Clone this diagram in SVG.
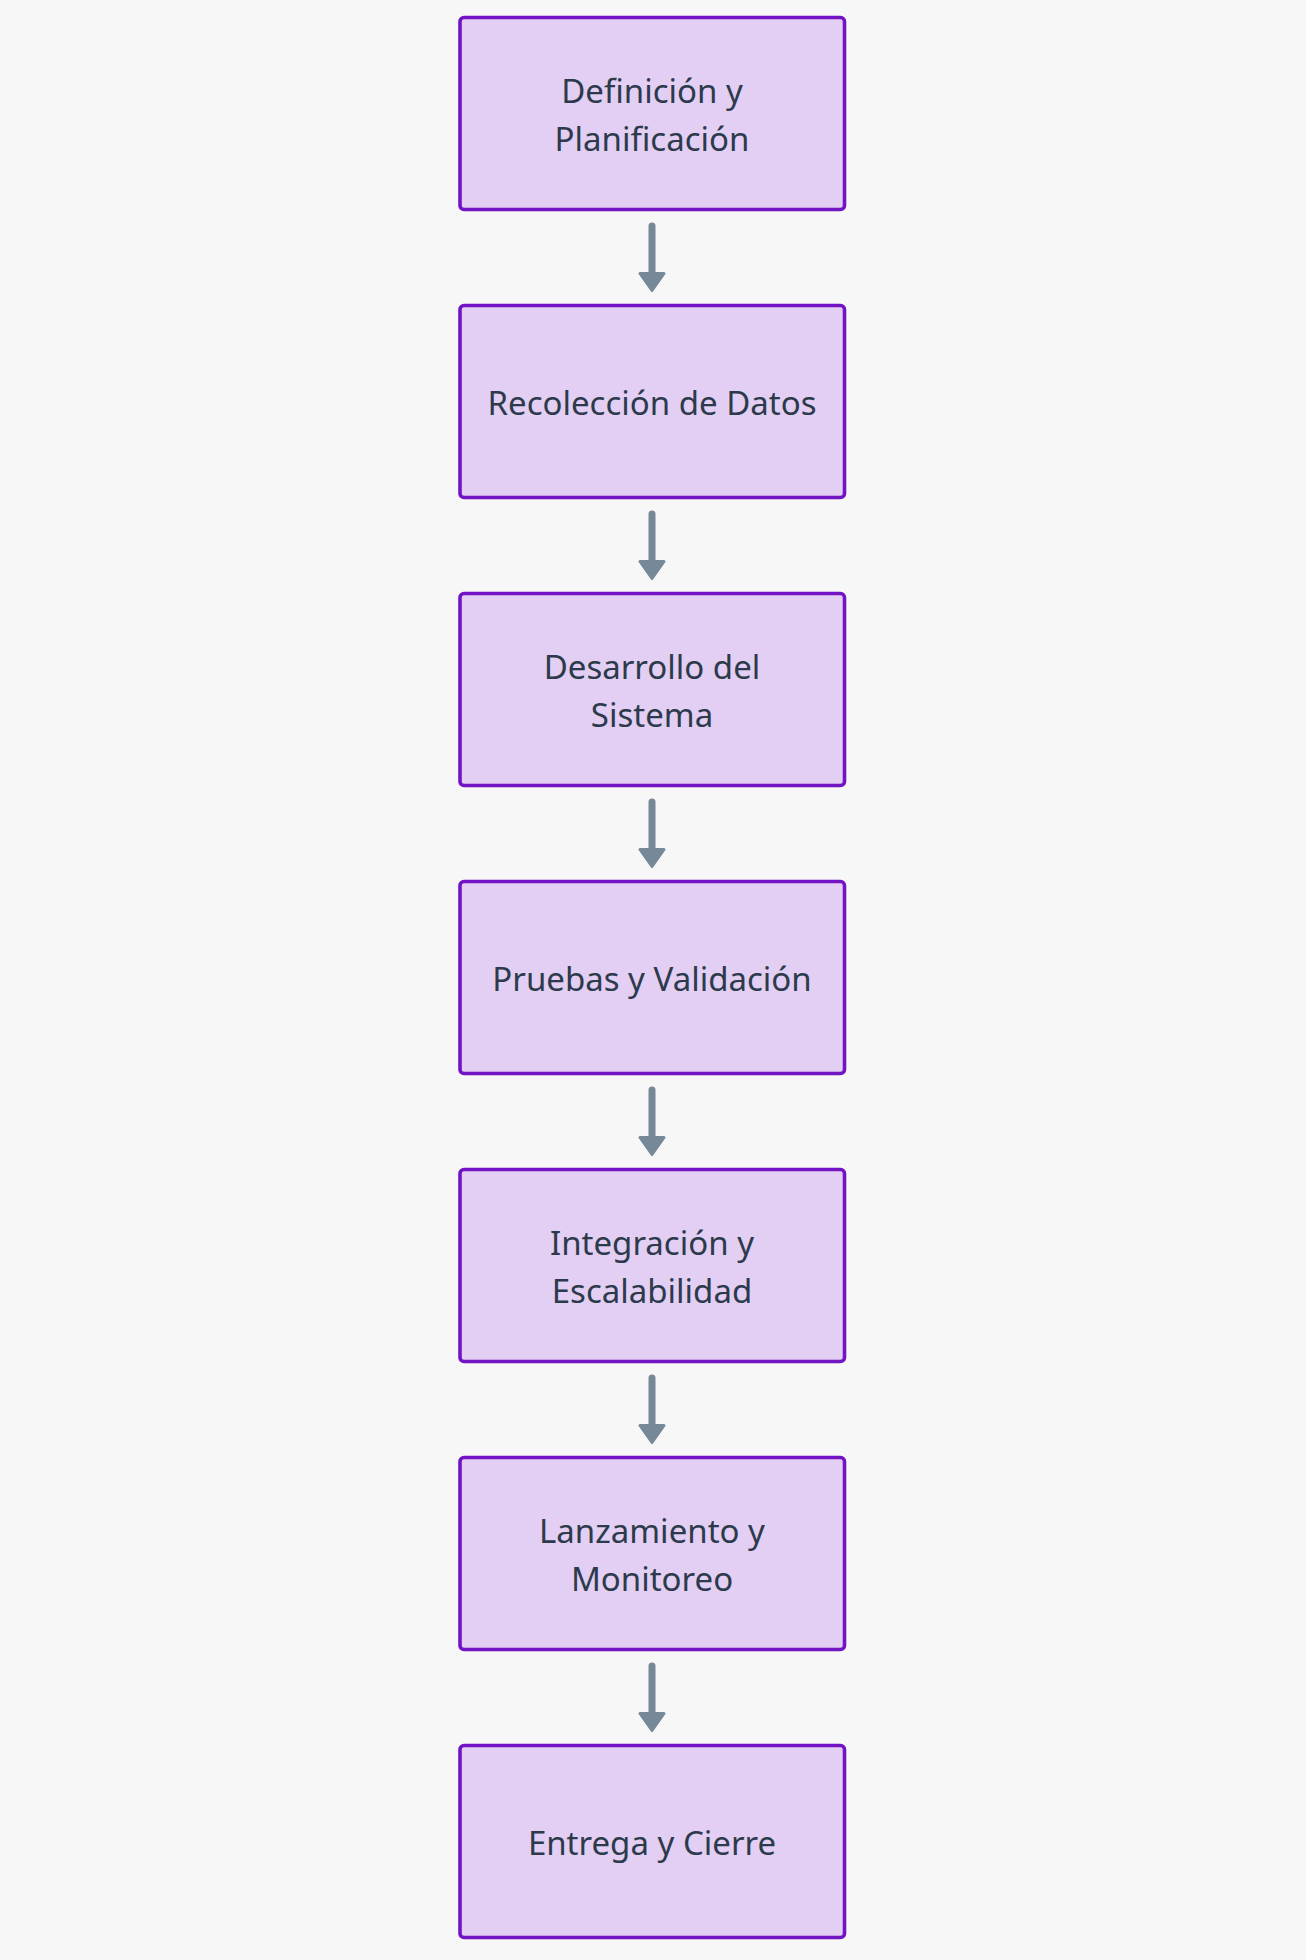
<svg xmlns="http://www.w3.org/2000/svg" width="1306" height="1960" viewBox="0 0 1306 1960">
<defs>
<style>
.node rect{fill:#e2cff3;stroke:#7314c4;stroke-width:3.6;}
.node text{font-family:"Noto Sans","Liberation Sans",sans-serif;font-size:33px;fill:#2c3a4b;text-anchor:middle;}
.edge line{stroke:#778899;stroke-width:7;stroke-linecap:round;}
.edge polygon{fill:#778899;stroke:#778899;stroke-width:3;stroke-linejoin:round;}
</style>
</defs>
<rect width="1306" height="1960" fill="#f7f7f7"/>
<g id="connectors">
<g class="edge" id="e1"><line x1="652" y1="226" x2="652" y2="272"/><polygon points="640,273.5 664,273.5 652,290.5"/></g>
<g class="edge" id="e2"><line x1="652" y1="514" x2="652" y2="560"/><polygon points="640,561.5 664,561.5 652,578.5"/></g>
<g class="edge" id="e3"><line x1="652" y1="802" x2="652" y2="848"/><polygon points="640,849.5 664,849.5 652,866.5"/></g>
<g class="edge" id="e4"><line x1="652" y1="1090" x2="652" y2="1136"/><polygon points="640,1137.5 664,1137.5 652,1154.5"/></g>
<g class="edge" id="e5"><line x1="652" y1="1378" x2="652" y2="1424"/><polygon points="640,1425.5 664,1425.5 652,1442.5"/></g>
<g class="edge" id="e6"><line x1="652" y1="1666" x2="652" y2="1712"/><polygon points="640,1713.5 664,1713.5 652,1730.5"/></g>
</g>
<g class="node" id="n1"><rect x="460" y="17.5" width="384.5" height="192" rx="4"/><text x="652" y="102.5">Definición y</text><text x="652" y="150.5">Planificación</text></g>
<g class="node" id="n2"><rect x="460" y="305.5" width="384.5" height="192" rx="4"/><text x="652" y="414.5">Recolección de Datos</text></g>
<g class="node" id="n3"><rect x="460" y="593.5" width="384.5" height="192" rx="4"/><text x="652" y="678.5">Desarrollo del</text><text x="652" y="726.5">Sistema</text></g>
<g class="node" id="n4"><rect x="460" y="881.5" width="384.5" height="192" rx="4"/><text x="652" y="990.5">Pruebas y Validación</text></g>
<g class="node" id="n5"><rect x="460" y="1169.5" width="384.5" height="192" rx="4"/><text x="652" y="1254.5">Integración y</text><text x="652" y="1302.5">Escalabilidad</text></g>
<g class="node" id="n6"><rect x="460" y="1457.5" width="384.5" height="192" rx="4"/><text x="652" y="1542.5">Lanzamiento y</text><text x="652" y="1590.5">Monitoreo</text></g>
<g class="node" id="n7"><rect x="460" y="1745.5" width="384.5" height="192" rx="4"/><text x="652" y="1854.5">Entrega y Cierre</text></g>
</svg>
